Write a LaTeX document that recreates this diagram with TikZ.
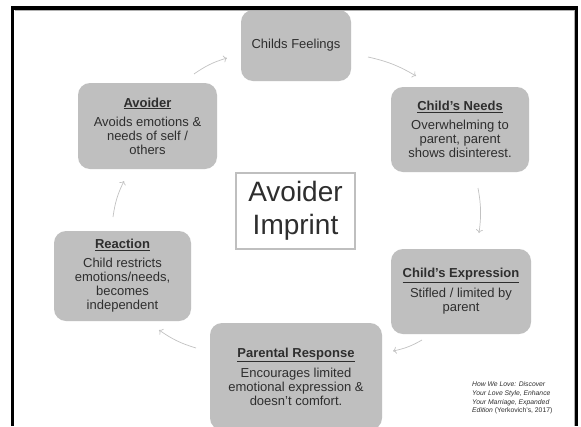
\documentclass[tikz,border=0pt]{standalone}
\usepackage{fontspec}
\setmainfont{Liberation Sans}
\usetikzlibrary{arrows.meta}
\definecolor{boxgray}{HTML}{BFBFBF}
\definecolor{txt}{HTML}{2E2E2E}
\definecolor{arr}{HTML}{C2C2C2}
\definecolor{edgegray}{HTML}{B0B0B0}
\tikzset{
  stagebox/.style={rectangle, rounded corners=12pt, fill=boxgray, text=txt,
    align=center, inner sep=0pt, font=\fontsize{13}{14}\selectfont},
  centerbox/.style={rectangle, draw=boxgray, line width=1.2pt, fill=white, text=txt,
    align=center, inner sep=0pt, font=\fontsize{28}{33}\selectfont},
  cycarrow/.style={draw=arr, line width=0.7pt, -{To[length=3.5pt,width=7pt]}, bend left=9},
  citation/.style={text=txt, align=left, inner sep=0pt, font=\fontsize{6.8}{8.6}\selectfont}
}
\begin{document}
\begin{tikzpicture}[x=1pt,y=-1pt]
\useasboundingbox (0,0) rectangle (581,426);
\clip (0,0) rectangle (581,426);
\fill[white] (0,0) rectangle (581,426);

\node[stagebox, minimum width=110pt, minimum height=71pt] (feel) at (296,45.5) {Childs Feelings};
\node[stagebox, minimum width=138pt, minimum height=85pt] (needs) at (460,129.5)
  {\textbf{\underline{Child’s Needs}}\\[5pt]Overwhelming to\\parent, parent\\shows disinterest.};
\node[stagebox, minimum width=140pt, minimum height=85pt] (expr) at (461,291.5)
  {\textbf{\underline{Child’s Expression}}\\[5pt]Stifled / limited by\\parent};
\node[stagebox, minimum width=172pt, minimum height=107pt] (parental) at (296,376.5)
  {\textbf{\underline{Parental Response}}\\[5pt]Encourages limited\\emotional expression \&\\doesn’t comfort.};
\node[stagebox, minimum width=137pt, minimum height=90pt] (reaction) at (122.5,276)
  {\textbf{\underline{Reaction}}\\[5pt]Child restricts\\emotions/needs,\\becomes\\independent};
\node[stagebox, minimum width=139pt, minimum height=86pt] (avoider) at (147.5,126)
  {\textbf{\underline{Avoider}}\\[5pt]Avoids emotions \&\\needs of self /\\others};
\node[centerbox, minimum width=119pt, minimum height=76pt] (center) at (295.5,211)
  {Avoider\\Imprint};

\node[citation, anchor=west] (cite) at (472,398)
  {\textit{How We Love: Discover}\\\textit{Your Love Style, Enhance}\\\textit{Your Marriage, Expanded}\\\textit{Edition} (Yerkovich’s, 2017)};

\coordinate (a1s) at (368,57);  \coordinate (a1e) at (416,76);
\coordinate (a2s) at (478,188); \coordinate (a2e) at (479,233);
\coordinate (a3s) at (422,340); \coordinate (a3e) at (393,351);
\coordinate (a4s) at (196,348); \coordinate (a4e) at (159,330);
\coordinate (a5s) at (113,217); \coordinate (a5e) at (124,181);
\coordinate (a6s) at (194,74);  \coordinate (a6e) at (227,58);
\draw[cycarrow] (a1s) to (a1e);
\draw[cycarrow] (a2s) to (a2e);
\draw[cycarrow] (a3s) to (a3e);
\draw[cycarrow] (a4s) to (a4e);
\draw[cycarrow] (a5s) to (a5e);
\draw[cycarrow] (a6s) to (a6e);

\draw[edgegray, line width=1pt] (14.5,10.8) -- (574,10.8) -- (574,426);
\draw[black, line width=3.8pt] (12.5,426) -- (12.5,8) -- (576.5,8) -- (576.5,426);
\end{tikzpicture}
\end{document}
